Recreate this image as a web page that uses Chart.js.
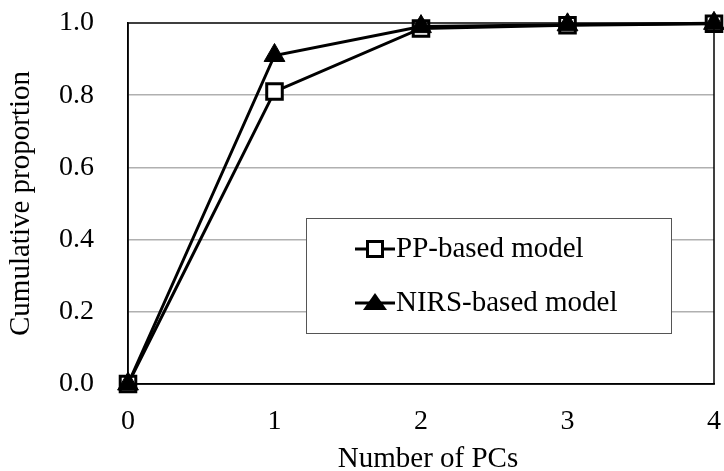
<!DOCTYPE html>
<html>
<head>
<meta charset="utf-8">
<script src="https://cdn.jsdelivr.net/npm/chart.js@4.4.1/dist/chart.umd.min.js"></script>
<style>
  html, body { margin: 0; padding: 0; background: #fff; }
  #wrap { width: 724px; height: 471px; }
</style>
</head>
<body>
<div id="wrap"><canvas id="c" width="724" height="471"></canvas></div>
<script>
const pcs = [0, 1, 2, 3, 4];
const ppBased = [0, 0.81, 0.985, 0.994, 0.998];
const nirsBased = [0, 0.91, 0.99, 0.995, 0.999];
const seriesLabels = ['PP-based model', 'NIRS-based model'];
const yTicks = [0, 0.2, 0.4, 0.6, 0.8, 1.0];
const xTitle = 'Number of PCs';
const yTitle = 'Cumulative proportion';

const FONT = '"Liberation Serif", "Times New Roman", serif';

const frame = {
  id: 'frame',
  afterDatasetsDraw(chart) {
    const { ctx, chartArea: a } = chart;
    ctx.save();
    ctx.strokeStyle = '#000';
    ctx.lineWidth = 1.5;
    ctx.strokeRect(a.left, a.top, a.right - a.left, a.bottom - a.top);
    ctx.restore();
  }
};

const xAxisTitle = {
  id: 'xAxisTitle',
  afterDraw(chart) {
    const { ctx, chartArea: a } = chart;
    ctx.save();
    ctx.fillStyle = '#000';
    ctx.font = '29px ' + FONT;
    ctx.textAlign = 'center';
    ctx.textBaseline = 'alphabetic';
    ctx.fillText(xTitle, (a.left + a.right) / 2 + 7, 467);
    ctx.restore();
  }
};

const boxLegend = {
  id: 'boxLegend',
  afterDraw(chart) {
    const { ctx } = chart;
    const x0 = 306, y0 = 218, w = 365, h = 115;
    ctx.save();
    ctx.fillStyle = '#fff';
    ctx.fillRect(x0, y0, w, h);
    ctx.strokeStyle = '#555';
    ctx.lineWidth = 1;
    ctx.strokeRect(x0 + 0.5, y0 + 0.5, w, h);
    const rows = [y0 + 31, y0 + 85];
    chart.data.datasets.forEach((ds) => {
      const idx = seriesLabels.indexOf(ds.label);
      const y = rows[idx];
      ctx.strokeStyle = '#000';
      ctx.lineWidth = 3;
      ctx.beginPath();
      ctx.moveTo(355, y);
      ctx.lineTo(395, y);
      ctx.stroke();
      if (ds.pointStyle === 'rect') {
        const s = 15;
        ctx.fillStyle = '#fff';
        ctx.fillRect(375 - s / 2, y - s / 2, s, s);
        ctx.lineWidth = 3;
        ctx.strokeRect(375 - s / 2, y - s / 2, s, s);
      } else {
        ctx.fillStyle = '#000';
        ctx.beginPath();
        ctx.moveTo(375, y - 10);
        ctx.lineTo(387, y + 7);
        ctx.lineTo(363, y + 7);
        ctx.closePath();
        ctx.fill();
      }
      ctx.fillStyle = '#000';
      ctx.font = '29px ' + FONT;
      ctx.textBaseline = 'middle';
      ctx.textAlign = 'left';
      ctx.fillText(ds.label, 396, y);
    });
    ctx.restore();
  }
};

new Chart(document.getElementById('c'), {
  type: 'line',
  data: {
    datasets: [
      {
        label: seriesLabels[1],
        data: pcs.map((x, i) => ({ x, y: nirsBased[i] })),
        borderColor: '#000',
        backgroundColor: '#000',
        borderWidth: 3,
        pointStyle: 'triangle',
        pointRadius: 12,
        pointBorderWidth: 1,
        pointBackgroundColor: '#000',
        pointBorderColor: '#000',
        tension: 0,
        clip: false,
        order: 0
      },
      {
        label: seriesLabels[0],
        data: pcs.map((x, i) => ({ x, y: ppBased[i] })),
        borderColor: '#000',
        backgroundColor: '#fff',
        borderWidth: 3,
        pointStyle: 'rect',
        pointRadius: 11,
        pointBorderWidth: 3,
        pointBackgroundColor: '#fff',
        pointBorderColor: '#000',
        tension: 0,
        clip: false,
        order: 1
      }
    ]
  },
  options: {
    responsive: false,
    animation: false,
    layout: { autoPadding: false, padding: { left: 0, right: 10, top: 23, bottom: 0 } },
    plugins: { legend: { display: false }, tooltip: { enabled: false } },
    scales: {
      x: {
        type: 'linear',
        min: 0, max: 4,
        afterFit(s) { s.height = 87; s.paddingLeft = 0; s.paddingRight = 0; },
        grid: { display: false, drawTicks: false },
        border: { display: true, color: '#000', width: 1.5 },
        ticks: {
          stepSize: 1,
          padding: 21,
          color: '#000',
          font: { family: FONT, size: 28 },
          callback: v => String(v)
        },
        title: { display: false, text: xTitle }
      },
      y: {
        type: 'linear',
        min: 0, max: 1,
        afterFit(s) { s.width = 128; s.paddingTop = 0; s.paddingBottom = 0; },
        afterBuildTicks(s) { s.ticks = yTicks.map(v => ({ value: v })); },
        grid: {
          drawTicks: false,
          color: c => (c.tick && (c.tick.value === 0 || c.tick.value === 1)) ? 'rgba(0,0,0,0)' : '#b0b0b0',
          lineWidth: 1.5
        },
        border: { display: true, color: '#000', width: 1.5 },
        ticks: {
          padding: 34,
          color: '#000',
          font: { family: FONT, size: 28 },
          callback: v => Number(v).toFixed(1)
        },
        title: {
          display: true,
          text: yTitle,
          color: '#000',
          font: { family: FONT, size: 29 },
          padding: { top: 4, bottom: 0 }
        }
      }
    }
  },
  plugins: [frame, xAxisTitle, boxLegend]
});
</script>
</body>
</html>
